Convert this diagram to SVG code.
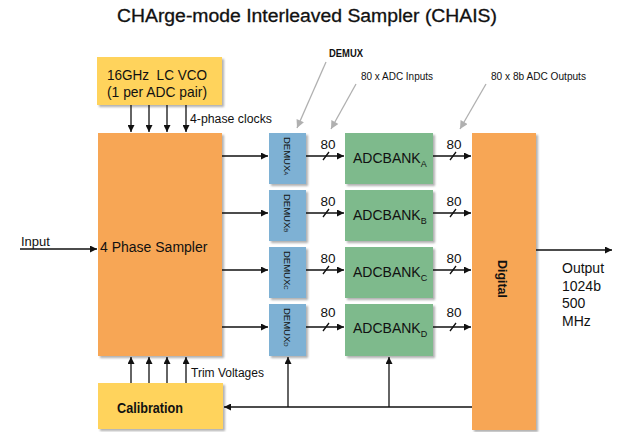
<svg xmlns="http://www.w3.org/2000/svg" width="619" height="432" viewBox="0 0 619 432">
<defs>
<filter id="sh" x="-10%" y="-10%" width="130%" height="130%">
<feDropShadow dx="2" dy="2" stdDeviation="1.2" flood-color="#7a7a7a" flood-opacity="0.6"/>
</filter>
<marker id="ah" viewBox="0 0 10 10" refX="10" refY="5" markerWidth="8" markerHeight="7" markerUnits="userSpaceOnUse" orient="auto">
<path d="M0,0 L10,5 L0,10 z" fill="#111"/>
</marker>
<marker id="gh" viewBox="0 0 10 10" refX="10" refY="5" markerWidth="9" markerHeight="8" markerUnits="userSpaceOnUse" orient="auto">
<path d="M0,0 L10,5 L0,10 z" fill="#b0b0b0"/>
</marker>
<style>
text{font-family:"Liberation Sans",Arial,sans-serif;fill:#111;}
.yel{fill:#FFD35B;filter:url(#sh);}
.org{fill:#F7A654;filter:url(#sh);}
.blu{fill:#7EB1D4;filter:url(#sh);}
.grn{fill:#7EBA8C;filter:url(#sh);}
.ln{stroke:#111;stroke-width:1.3;fill:none;}
.arr{stroke:#111;stroke-width:1.3;fill:none;marker-end:url(#ah);}
.gar{stroke:#b0b0b0;stroke-width:1.3;fill:none;marker-end:url(#gh);}
.adc{font-size:14px;}
.sub{font-size:9px;}
.dm{font-size:9.5px;}
.n80{font-size:13.5px;text-anchor:middle;}
.lbl{font-size:12px;}
.call{font-size:10px;}
</style>
</defs>

<text x="307" y="22" font-size="18" text-anchor="middle" stroke="#111" stroke-width="0.3" textLength="380" lengthAdjust="spacingAndGlyphs">CHArge-mode Interleaved Sampler (CHAIS)</text>

<g id="vco">
<rect class="yel" x="97" y="57" width="125" height="48"/>
<text x="107" y="80" font-size="15" textLength="100" lengthAdjust="spacingAndGlyphs">16GHz&#160; LC VCO</text>
<text x="107" y="97" font-size="15" textLength="100" lengthAdjust="spacingAndGlyphs">(1 per ADC pair)</text>
</g>

<g id="sampler">
<rect class="org" x="98" y="133" width="124" height="223"/>
<text x="100" y="252" font-size="14">4 Phase Sampler</text>
</g>

<g id="calibration">
<rect class="yel" x="98" y="383" width="125" height="46"/>
<text x="117" y="413" font-size="14" font-weight="bold" textLength="66" lengthAdjust="spacingAndGlyphs">Calibration</text>
</g>

<g id="demuxA">
<rect class="blu" x="269" y="133" width="37" height="51"/>
<text class="dm" transform="translate(284,137) rotate(90)">DEMUX<tspan font-size="6">A</tspan></text>
</g>
<g id="demuxB">
<rect class="blu" x="269" y="190" width="37" height="51"/>
<text class="dm" transform="translate(284,194) rotate(90)">DEMUX<tspan font-size="6">B</tspan></text>
</g>
<g id="demuxC">
<rect class="blu" x="269" y="247" width="37" height="51"/>
<text class="dm" transform="translate(284,251) rotate(90)">DEMUX<tspan font-size="6">C</tspan></text>
</g>
<g id="demuxD">
<rect class="blu" x="269" y="304" width="37" height="52"/>
<text class="dm" transform="translate(284,308) rotate(90)">DEMUX<tspan font-size="6">D</tspan></text>
</g>

<g id="adcA">
<rect class="grn" x="345" y="133" width="88" height="51"/>
<text class="adc" x="353" y="163">ADCBANK<tspan class="sub" dy="4">A</tspan></text>
</g>
<g id="adcB">
<rect class="grn" x="345" y="190" width="88" height="51"/>
<text class="adc" x="353" y="220">ADCBANK<tspan class="sub" dy="4">B</tspan></text>
</g>
<g id="adcC">
<rect class="grn" x="345" y="247" width="88" height="51"/>
<text class="adc" x="353" y="277">ADCBANK<tspan class="sub" dy="4">C</tspan></text>
</g>
<g id="adcD">
<rect class="grn" x="345" y="304" width="88" height="52"/>
<text class="adc" x="353" y="333">ADCBANK<tspan class="sub" dy="4">D</tspan></text>
</g>

<g id="digital">
<rect class="org" x="472" y="133" width="64" height="297"/>
<text transform="translate(498,260) rotate(90)" font-size="13" font-weight="bold" textLength="38" lengthAdjust="spacingAndGlyphs">Digital</text>
</g>

<g id="connectors">
<line class="arr" x1="131" y1="105" x2="131" y2="132"/>
<line class="arr" x1="149" y1="105" x2="149" y2="132"/>
<line class="arr" x1="167" y1="105" x2="167" y2="132"/>
<line class="arr" x1="186" y1="105" x2="186" y2="132"/>
<line class="arr" x1="131" y1="383" x2="131" y2="357"/>
<line class="arr" x1="149" y1="383" x2="149" y2="357"/>
<line class="arr" x1="167" y1="383" x2="167" y2="357"/>
<line class="arr" x1="186" y1="383" x2="186" y2="357"/>
<line class="arr" x1="20" y1="249" x2="97" y2="249"/>
<line class="arr" x1="222" y1="156" x2="268" y2="156"/>
<line class="arr" x1="222" y1="213" x2="268" y2="213"/>
<line class="arr" x1="222" y1="270" x2="268" y2="270"/>
<line class="arr" x1="222" y1="327" x2="268" y2="327"/>
<line class="arr" x1="306" y1="156" x2="344" y2="156"/>
<line class="arr" x1="306" y1="213" x2="344" y2="213"/>
<line class="arr" x1="306" y1="270" x2="344" y2="270"/>
<line class="arr" x1="306" y1="327" x2="344" y2="327"/>
<line class="arr" x1="433" y1="156" x2="471" y2="156"/>
<line class="arr" x1="433" y1="213" x2="471" y2="213"/>
<line class="arr" x1="433" y1="270" x2="471" y2="270"/>
<line class="arr" x1="433" y1="327" x2="471" y2="327"/>
<path class="ln" stroke-width="1" d="M323,160 L329,152 M323,217 L329,209 M323,274 L329,266 M323,331 L329,323 M450,160 L456,152 M450,217 L456,209 M450,274 L456,266 M450,331 L456,323"/>
<line class="arr" x1="536" y1="250" x2="612" y2="250"/>
<line class="arr" x1="472" y1="407" x2="224" y2="407"/>
<line class="arr" x1="288" y1="407" x2="288" y2="357"/>
<line class="arr" x1="389" y1="407" x2="389" y2="357"/>
<line class="gar" x1="326" y1="62" x2="297" y2="128"/>
<line class="gar" x1="356" y1="84" x2="331" y2="129"/>
<line class="gar" x1="486" y1="84" x2="460" y2="129"/>
</g>

<text x="21" y="246" font-size="13">Input</text>
<text class="lbl" x="190" y="123" textLength="82" lengthAdjust="spacingAndGlyphs">4-phase clocks</text>
<text class="lbl" x="191" y="377" textLength="73" lengthAdjust="spacingAndGlyphs">Trim Voltages</text>
<text class="call" x="329" y="57" font-weight="bold" textLength="34" lengthAdjust="spacingAndGlyphs">DEMUX</text>
<text class="call" x="361" y="80" textLength="72" lengthAdjust="spacingAndGlyphs">80 x ADC Inputs</text>
<text class="call" x="491" y="80" textLength="95" lengthAdjust="spacingAndGlyphs">80 x 8b ADC Outputs</text>

<text class="n80" x="328" y="149">80</text>
<text class="n80" x="328" y="206">80</text>
<text class="n80" x="328" y="263">80</text>
<text class="n80" x="328" y="317">80</text>
<text class="n80" x="454" y="149">80</text>
<text class="n80" x="454" y="206">80</text>
<text class="n80" x="454" y="263">80</text>
<text class="n80" x="454" y="317">80</text>

<text x="562" y="273" font-size="14">Output</text>
<text x="562" y="291" font-size="14">1024b</text>
<text x="562" y="308" font-size="14">500</text>
<text x="562" y="326" font-size="14">MHz</text>
</svg>
